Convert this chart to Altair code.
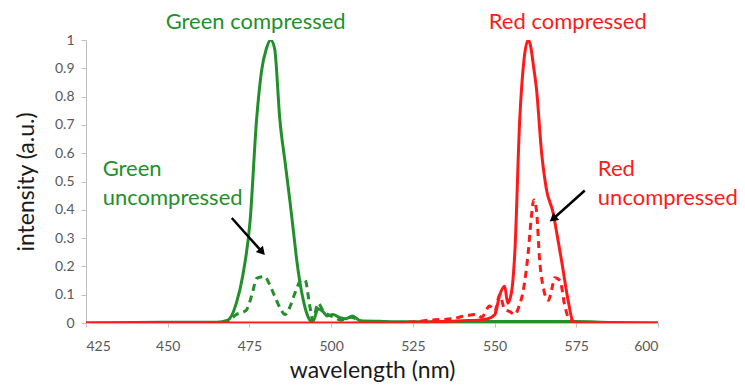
import altair as alt
import pandas as pd

# ---- data ----
green_comp_wl = [425, 440, 455, 465, 468.4, 471.0, 473.0, 475.2, 477.2, 478.7, 480.2, 481.5, 482.7, 484.3, 486.0, 487.4, 488.5, 489.5, 490.5, 491.5, 492.5, 493.5, 494.4, 496.0, 497.5, 498.8, 500.5, 502.5, 504.5, 506.5, 509, 515, 525, 545, 560, 575, 585, 600]
green_comp_val = [0, 0.002, 0.003, 0.003, 0.01, 0.07, 0.17, 0.36, 0.72, 0.89, 0.97, 1.0, 0.97, 0.72, 0.56, 0.43, 0.32, 0.22, 0.14, 0.08, 0.035, 0.01, 0.005, 0.05, 0.04, 0.025, 0.03, 0.02, 0.015, 0.025, 0.008, 0.006, 0.004, 0.005, 0.005, 0.005, 0.002, 0.0]

green_unc_wl = [463, 468, 471.0, 474.0, 476.0, 477.2, 479.7, 481.0, 482.8, 484.5, 485.9, 487.5, 488.9, 491.0, 492.0, 493.5, 494.4, 496.0, 497.5, 499.0, 501, 503, 506, 510, 520]
green_unc_val = [0, 0.005, 0.03, 0.045, 0.11, 0.158, 0.164, 0.14, 0.093, 0.05, 0.03, 0.06, 0.105, 0.152, 0.152, 0.058, 0.01, 0.07, 0.045, 0.03, 0.02, 0.01, 0.02, 0.005, 0.0]

red_comp_wl = [425, 500, 530, 540, 545, 548, 550.1, 551.6, 553.1, 554.0, 555.2, 556.2, 557.7, 559.0, 560.3, 561.0, 562.0, 562.8, 564.4, 565.9, 567.9, 569.0, 570.5, 572.5, 574.0, 575, 585, 600]
red_comp_val = [0, 0, 0.003, 0.008, 0.01, 0.015, 0.03, 0.1, 0.13, 0.07, 0.11, 0.25, 0.72, 0.93, 1.0, 0.98, 0.9, 0.83, 0.6, 0.47, 0.39, 0.32, 0.22, 0.08, 0.005, 0, 0, 0]

red_unc_wl = [520, 526, 530, 537, 541, 544.6, 546.0, 548.5, 550.0, 551.6, 553.0, 554.7, 556.2, 557.5, 558.7, 560.3, 561.3, 562.0, 562.8, 563.8, 565.0, 565.7, 566.5, 567.5, 568.4, 570.0, 571.5, 573.0, 576]
red_unc_val = [0, 0.005, 0.01, 0.015, 0.025, 0.03, 0.02, 0.06, 0.04, 0.1, 0.05, 0.04, 0.03, 0.06, 0.11, 0.25, 0.38, 0.435, 0.4, 0.22, 0.12, 0.09, 0.08, 0.12, 0.16, 0.15, 0.06, 0.01, 0]

x_ticks = [425, 450, 475, 500, 525, 550, 575, 600]
y_ticks = [0, 0.1, 0.2, 0.3, 0.4, 0.5, 0.6, 0.7, 0.8, 0.9, 1]

label_text = ["Green compressed", "Red compressed", "Green", "uncompressed", "Red", "uncompressed"]
label_wl = [476.9, 572.4, 430.1, 430.1, 581.6, 581.6]
label_val = [1.04, 1.04, 0.519, 0.417, 0.519, 0.417]
label_color = ["green", "red", "green", "green", "red", "red"]
label_align = ["center", "center", "left", "left", "left", "left"]

# arrows: tail (wl, val) -> head (head_wl, head_val)
arrow_wl = [469.6, 577.6]
arrow_val = [0.371, 0.468]
head_wl = [478.6, 568.2]
head_val = [0.255, 0.371]
head_angle = [138.4, 231.8]

GREEN = "#22902a"
RED = "#ff1a1a"

def frame(wl, val, name):
    return pd.DataFrame({"wl": wl, "val": val, "series": name})

data = pd.concat([
    frame(green_unc_wl, green_unc_val, "green_unc"),
    frame(green_comp_wl, green_comp_val, "green_comp"),
    frame(red_unc_wl, red_unc_val, "red_unc"),
    frame(red_comp_wl, red_comp_val, "red_comp"),
], ignore_index=True)

labels = pd.DataFrame({"wl": label_wl, "val": label_val, "text": label_text,
                       "c": label_color, "align": label_align})
arrows = pd.DataFrame({"wl": arrow_wl, "val": arrow_val, "wl2": head_wl, "val2": head_val})
heads = pd.DataFrame({"wl": head_wl, "val": head_val, "ang": head_angle})

FONT = "Lato"

x_enc = alt.X("wl:Q", scale=alt.Scale(domain=[425, 600], nice=False, zero=False),
              axis=alt.Axis(values=x_ticks, title="wavelength (nm)", grid=False,
                            tickSize=4, labelPadding=12, titlePadding=6,
                            labelOverlap=False,
                            domainColor="#bfbfbf", tickColor="#bfbfbf"))
y_enc = alt.Y("val:Q", scale=alt.Scale(domain=[0, 1], nice=False),
              axis=alt.Axis(values=y_ticks, format="~g", title="intensity (a.u.)",
                            grid=False, tickSize=5, labelPadding=7, titlePadding=16,
                            labelOverlap=False,
                            domainColor="#bfbfbf", tickColor="#bfbfbf"))

base = alt.Chart(data).encode(x=x_enc, y=y_enc)

def line(name, color, dashed):
    kw = dict(color=color, strokeWidth=3, interpolate="monotone", clip=True)
    if dashed:
        kw["strokeDash"] = [7, 5]
    return base.transform_filter(alt.datum.series == name).mark_line(**kw)

layers = [
    line("green_unc", GREEN, True),
    line("green_comp", GREEN, False),
    line("red_unc", RED, True),
    line("red_comp", RED, False),
]

color_scale = alt.Scale(domain=["green", "red"], range=[GREEN, RED])
for al in ["center", "left"]:
    layers.append(
        alt.Chart(labels).transform_filter(alt.datum.align == al)
        .mark_text(align=al, baseline="alphabetic", fontSize=22, font=FONT)
        .encode(x=x_enc, y=y_enc, text="text:N",
                color=alt.Color("c:N", scale=color_scale, legend=None))
    )

layers.append(
    alt.Chart(arrows).mark_rule(color="black", strokeWidth=2.5)
    .encode(x=x_enc, y=y_enc, x2="wl2:Q", y2="val2:Q")
)
layers.append(
    alt.Chart(heads).mark_point(shape="triangle", filled=True, opacity=1,
                                color="black", size=90)
    .encode(x=x_enc, y=y_enc, angle=alt.Angle("ang:Q", scale=None))
)

chart = alt.layer(*layers).properties(
    width=572, height=283,
    autosize="none",
    padding={"left": 78, "top": 32, "right": 79, "bottom": 64},
).configure_view(stroke=None).configure_axis(
    labelFont=FONT, titleFont=FONT, labelFontSize=14, titleFontSize=23,
    labelColor="#595959", titleColor="#1a1a1a", titleFontWeight="normal",
)

chart.save("out.html", embed_options={"renderer": "svg", "actions": False})
